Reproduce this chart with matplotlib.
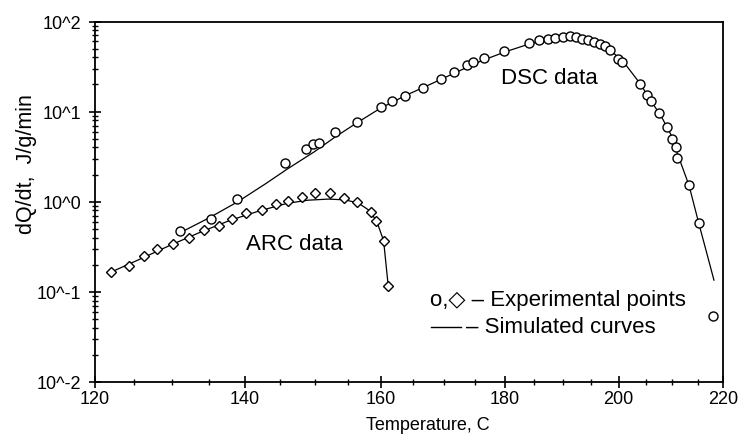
import numpy as np
import matplotlib
matplotlib.use("Agg")
import matplotlib.pyplot as plt
from matplotlib.ticker import FixedLocator, MultipleLocator, NullFormatter, LogLocator
from matplotlib.lines import Line2D

plt.rcParams['font.family'] = ['Liberation Sans', 'DejaVu Sans']

# ---- data ----
arc_T = [122.0, 124.3, 126.3, 128.0, 130.1, 132.3, 134.3, 136.4, 138.2, 140.2, 142.4,
         144.4, 146.2, 148.1, 150.1, 152.3, 154.4, 156.3, 158.4, 159.3, 160.4, 161.1]
arc_Q = [0.168, 0.192, 0.248, 0.300, 0.344, 0.398, 0.480, 0.545, 0.647, 0.741, 0.815,
         0.933, 1.02, 1.12, 1.24, 1.24, 1.09, 0.99, 0.766, 0.608, 0.365, 0.117]

arc_sim_T = [122.0, 126.0, 130.0, 134.0, 138.0, 142.0, 146.0, 149.0, 152.0, 154.5,
             156.5, 158.0, 159.3, 160.4, 161.1]
arc_sim_Q = [0.165, 0.235, 0.335, 0.465, 0.625, 0.79, 0.96, 1.04, 1.07, 1.05,
             0.97, 0.82, 0.62, 0.37, 0.12]

dsc_T = [131.1, 135.3, 138.9, 145.7, 148.7, 149.7, 150.7, 153.0, 156.3, 160.0, 161.7,
         163.7, 166.6, 169.4, 171.5, 173.6, 174.6, 176.5, 179.8, 184.1, 185.8, 187.4,
         188.6, 190.0, 191.2, 192.3, 193.4, 194.4, 195.5, 196.6, 197.5, 198.4, 199.9,
         200.7, 204.0, 205.3, 206.1, 207.5, 209.1, 210.1, 210.8, 211.0, 213.3, 215.2, 218.0]
dsc_Q = [0.47, 0.64, 1.06, 2.72, 3.8, 4.34, 4.53, 5.94, 7.76, 11.2, 13.1,
         15.0, 18.5, 22.9, 27.4, 32.8, 35.2, 39.0, 46.8, 57.7, 61.9, 63.8,
         65.4, 68.1, 69.5, 67.3, 64.7, 62.3, 59.1, 56.2, 52.8, 48.9, 38.3,
         35.4, 20.4, 15.4, 13.0, 9.7, 6.83, 5.02, 4.02, 3.08, 1.52, 0.583, 0.0543]

dsc_sim_T = [130.8, 135.0, 139.0, 143.0, 146.0, 150.0, 153.0, 156.3, 160.0, 164.0,
             168.0, 172.0, 176.0, 180.0, 184.0, 188.0, 191.0, 194.0, 197.0, 199.0,
             201.0, 204.0, 206.0, 208.0, 210.0, 211.0, 213.3, 215.2, 218.2]
dsc_sim_Q = [0.44, 0.66, 1.0, 1.6, 2.3, 3.6, 5.2, 7.5, 11.0, 15.3,
             20.5, 27.5, 36.5, 46.0, 56.0, 64.5, 67.5, 64.0, 55.0, 45.0,
             35.0, 20.4, 13.2, 8.8, 5.3, 3.5, 1.52, 0.58, 0.135]

x_major = [120, 140, 160, 180, 200, 220]
y_major = [1e-2, 1e-1, 1e0, 1e1, 1e2]
y_labels = ['10^-2', '10^-1', '10^0', '10^1', '10^2']

# ---- figure ----
fig = plt.figure(figsize=(7.44, 4.35), dpi=100)
ax = fig.add_axes([95/744, 1-383/435, 628/744, 360.5/435])


def fwd(t):
    t = np.asarray(t, dtype=float)
    with np.errstate(divide='ignore', invalid='ignore'):
        return -1.0 / (t + 273.15)


def inv(u):
    u = np.asarray(u, dtype=float)
    with np.errstate(divide='ignore', invalid='ignore'):
        return -1.0 / u - 273.15


ax.set_xscale('function', functions=(fwd, inv))
ax.set_yscale('log')
ax.set_xlim(120, 220)
ax.set_ylim(1e-2, 1e2)

ax.plot(dsc_sim_T, dsc_sim_Q, color='black', lw=0.9, zorder=2)
ax.plot(arc_sim_T, arc_sim_Q, color='black', lw=0.9, zorder=2)
ax.plot(dsc_T, dsc_Q, linestyle='none', marker='o', ms=6.5, mfc='white', mec='black',
        mew=1.0, zorder=3)
ax.plot(arc_T, arc_Q, linestyle='none', marker='D', ms=5, mfc='white', mec='black',
        mew=1.0, zorder=3)

ax.xaxis.set_major_locator(FixedLocator(x_major))
ax.xaxis.set_minor_locator(MultipleLocator(5))
ax.set_xticklabels([str(v) for v in x_major])
ax.yaxis.set_major_locator(FixedLocator(y_major))
ax.set_yticklabels(y_labels)
ax.yaxis.set_minor_locator(LogLocator(base=10, subs=np.arange(2, 10)))
ax.yaxis.set_minor_formatter(NullFormatter())

for s in ax.spines.values():
    s.set_linewidth(1.3)

ax.tick_params(which='major', direction='inout', length=8, width=1.2, labelsize=13,
               colors='black')
ax.tick_params(axis='x', which='major', pad=2)
ax.tick_params(axis='y', which='major', pad=6)
ax.tick_params(which='minor', direction='inout', length=4, width=1.0)

ax.set_xlabel('Temperature, C', fontsize=13)
ax.xaxis.set_label_coords(0.53, -0.094)
ax.set_ylabel('dQ/dt,  J/g/min', fontsize=15.5)
ax.yaxis.set_label_coords(-0.092, 0.607)

ax.text(0.723, 0.845, 'DSC data', transform=ax.transAxes, fontsize=16,
        ha='center', va='center')
ax.text(0.317, 0.385, 'ARC data', transform=ax.transAxes, fontsize=16,
        ha='center', va='center')

ax.text(0.533, 0.2275, 'o,\u25c7 \u2013 Experimental points', transform=ax.transAxes,
        fontsize=16, ha='left', va='center')
ax.add_line(Line2D([0.535, 0.583], [0.1526, 0.1526], transform=ax.transAxes,
                   color='black', lw=1.0))
ax.text(0.59, 0.1526, '\u2013 Simulated curves', transform=ax.transAxes,
        fontsize=16, ha='left', va='center')

fig.savefig('out.png', dpi=100)
